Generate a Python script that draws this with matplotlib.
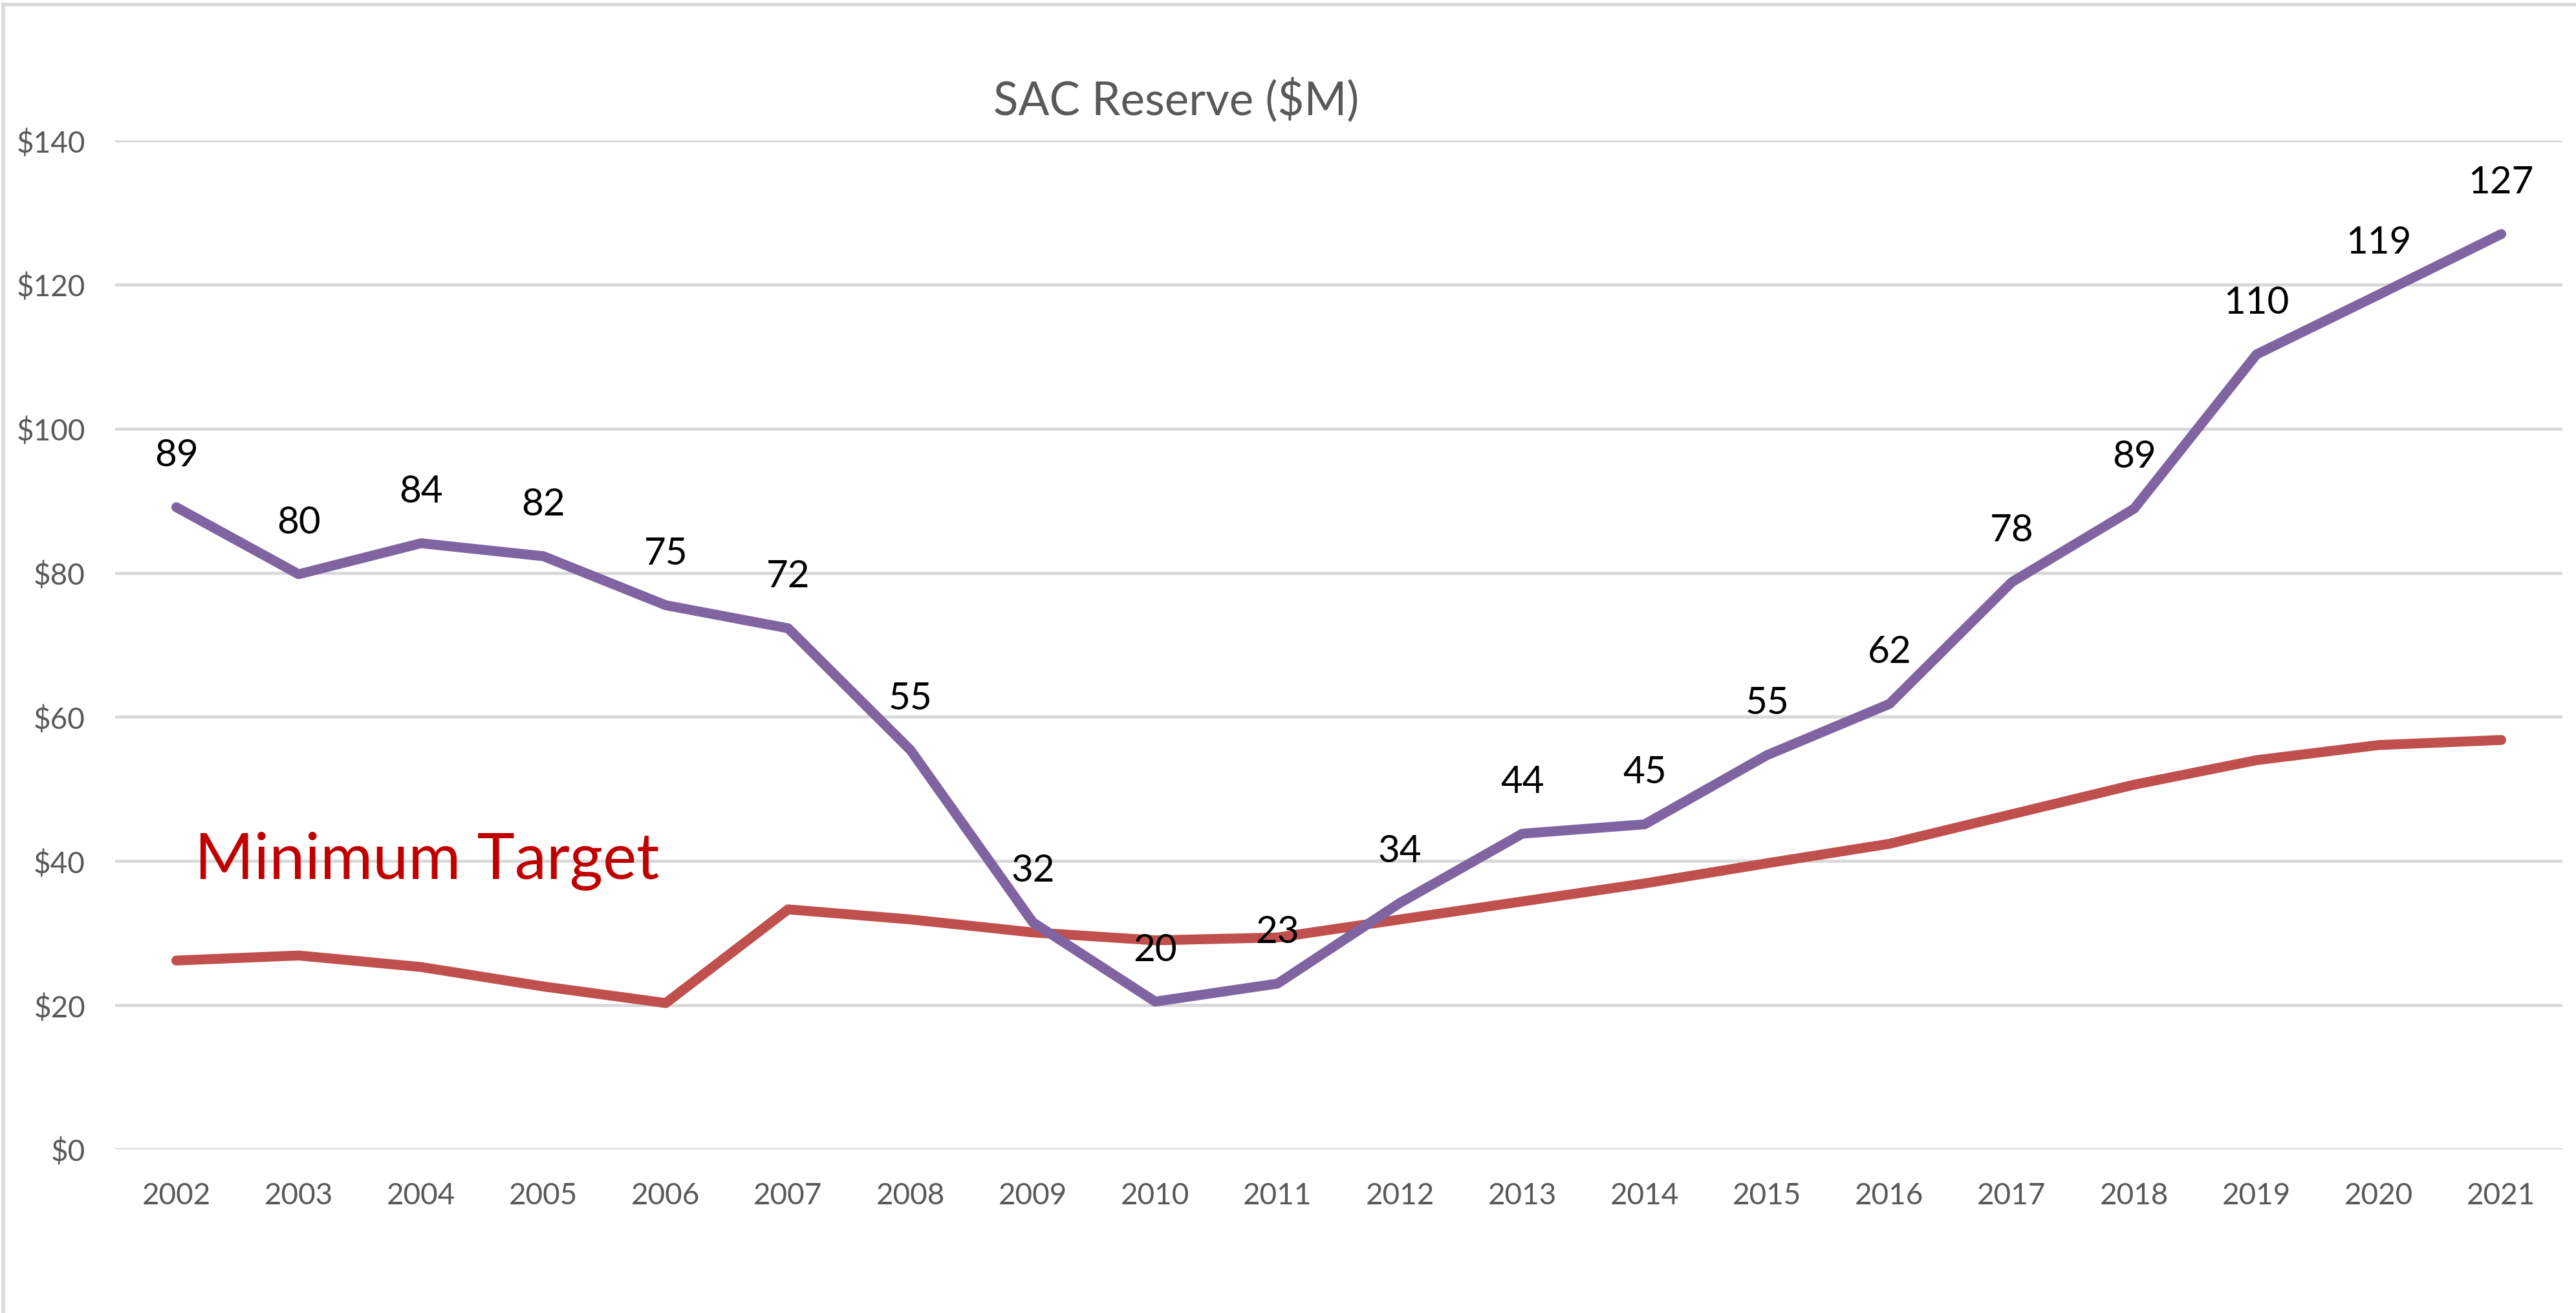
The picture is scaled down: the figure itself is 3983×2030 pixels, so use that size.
import numpy as np
import matplotlib.pyplot as plt
from matplotlib.lines import Line2D

years = np.arange(2002, 2022)

#SAC reserve ($M)
reserve = [89.1, 79.8, 84.1, 82.3, 75.5, 72.3, 55.4, 31.5, 20.5, 23.0,
           34.2, 43.8, 45.1, 54.7, 61.8, 78.7, 88.9, 110.3, 118.6, 127.0]
reserve_labels = ['89', '80', '84', '82', '75', '72', '55', '32', '20', '23',
                  '34', '44', '45', '55', '62', '78', '89', '110', '119', '127']

#Minimum target ($M)
target = [26.2, 26.9, 25.3, 22.6, 20.3, 33.3, 31.9, 30.1, 29.0, 29.4,
          31.9, 34.4, 36.9, 39.7, 42.4, 46.5, 50.6, 54.0, 56.1, 56.8]

y_ticks = [0, 20, 40, 60, 80, 100, 120, 140]

plt.rcParams['font.family'] = ['Lato', 'DejaVu Sans']

W, H = 3983, 2031
fig = plt.figure(figsize=(W / 100, H / 100), dpi=100)
ax = fig.add_axes([178 / W, 1 - 1778 / H, (3962 - 178) / W, (1778 - 218) / H])

ax.plot(years, reserve, color='#8064A2', linewidth=11, solid_capstyle='round',
        solid_joinstyle='round', zorder=3)
ax.plot(years, target, color='#C0504D', linewidth=11, solid_capstyle='round',
        solid_joinstyle='round', zorder=2)

for x, y, lab in zip(years, reserve, reserve_labels):
    ax.annotate(lab, (x, y), xytext=(0, 58), textcoords='offset points',
                ha='center', va='center', fontsize=42, color='black', zorder=4)

ax.text(2002.15, 40.1, 'Minimum Target', color='#C00000', fontsize=71,
        ha='left', va='center')

ax.set_xlim(2001.5, 2021.5)
ax.set_ylim(0, 140)
ax.set_xticks(years)
ax.set_xticklabels([str(y) for y in years])
ax.set_yticks(y_ticks)
ax.set_yticklabels(['$' + str(t) for t in y_ticks])
ax.tick_params(axis='both', length=0, labelsize=33, colors='#595959')
ax.tick_params(axis='y', pad=33)
ax.tick_params(axis='x', pad=36)
ax.grid(axis='y', color='#D9D9D9', linewidth=3.5)
ax.set_axisbelow(True)
for s in ax.spines.values():
    s.set_visible(False)

fig.text(1819 / W, 1 - 155 / H, 'SAC Reserve ($M)', ha='center', va='center',
         fontsize=51, color='#595959')

#chart frame
fig.add_artist(Line2D([5 / W, 5 / W], [0, 1 - 8 / H], color='#D9D9D9', linewidth=4,
                      transform=fig.transFigure))
fig.add_artist(Line2D([5 / W, 1], [1 - 8 / H, 1 - 8 / H], color='#D9D9D9', linewidth=4,
                      transform=fig.transFigure))

fig.savefig('out.png', dpi=100)
